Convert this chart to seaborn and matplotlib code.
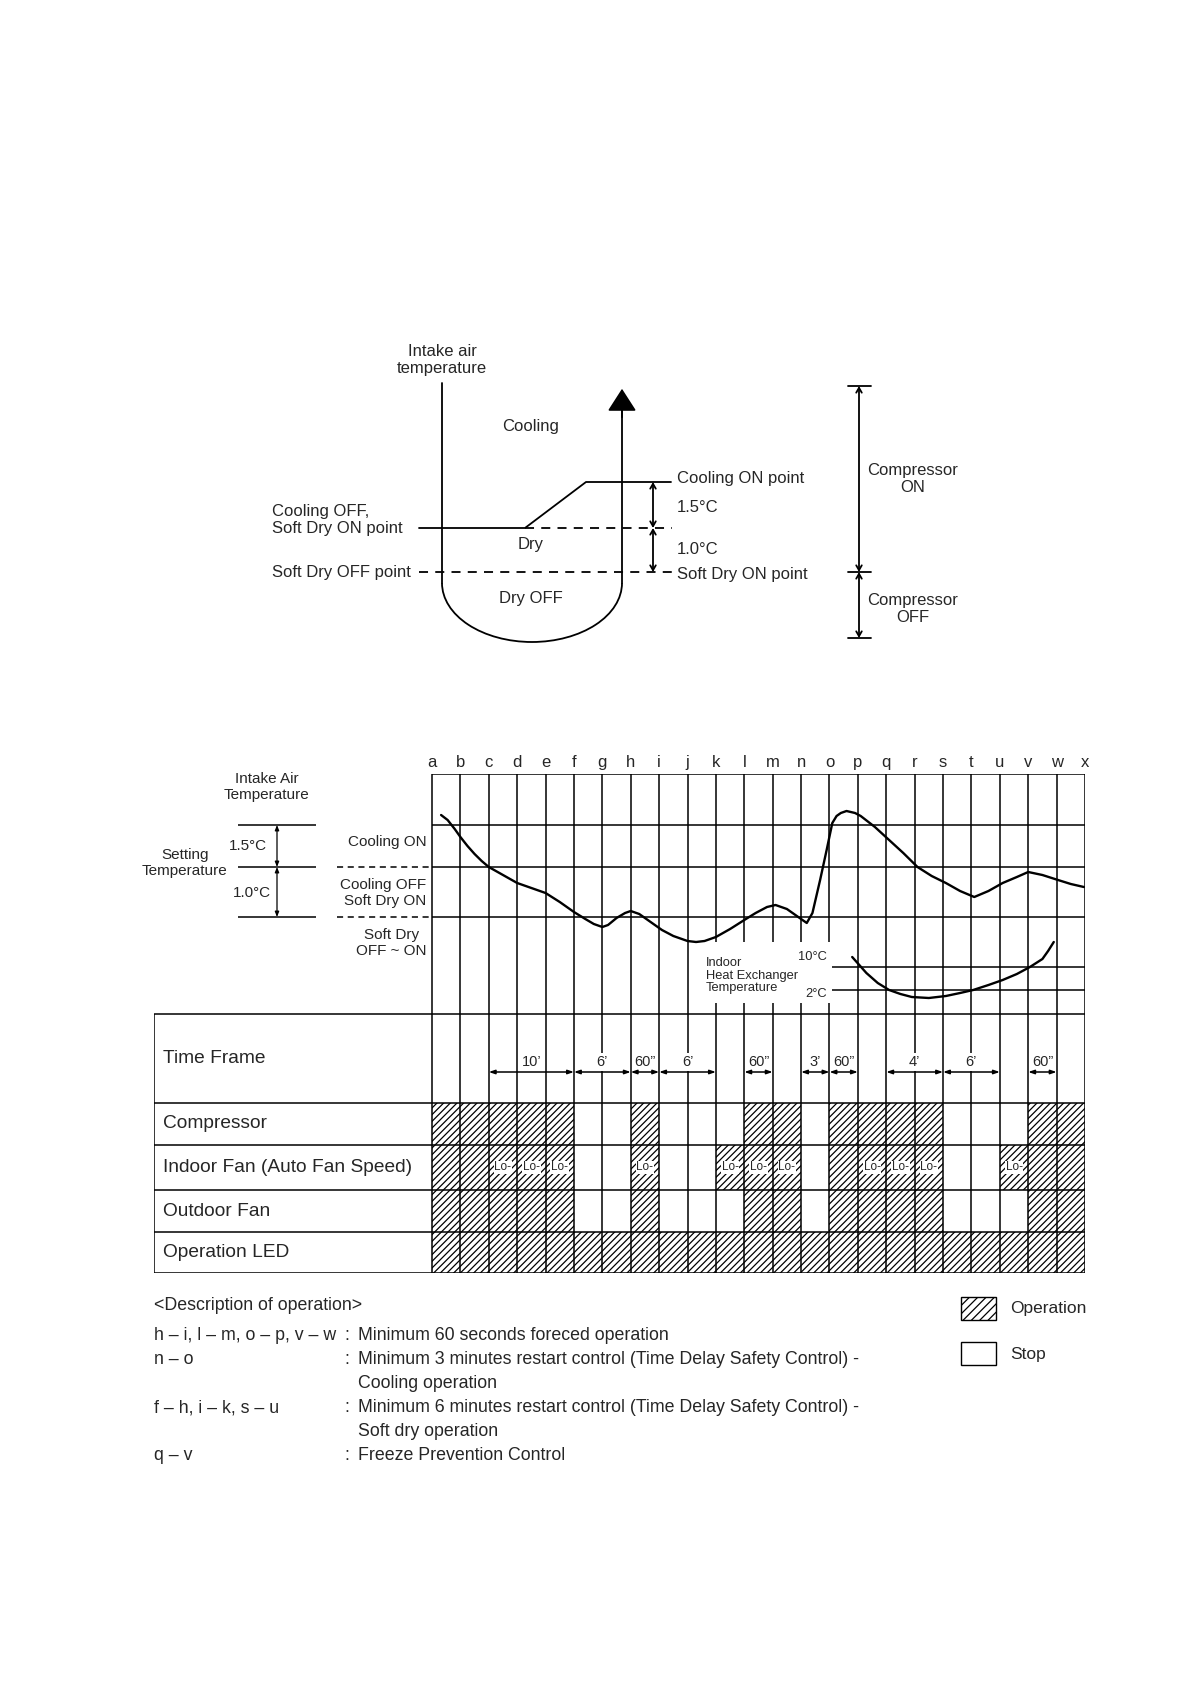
import numpy as np
import matplotlib
matplotlib.use('Agg')
import matplotlib.pyplot as plt
from matplotlib.patches import Arc, Rectangle
import seaborn as sns

sns.set_style('white')
plt.rcParams['font.family'] = ['Liberation Sans', 'DejaVu Sans']
plt.rcParams['hatch.linewidth'] = 0.9

W, H = 1190, 1684

# timing chart data
letters = list('abcdefghijklmnopqrstuvwx')
row_names = ['Time Frame', 'Compressor', 'Indoor Fan (Auto Fan Speed)', 'Outdoor Fan', 'Operation LED']
row_edges = [25.9, 17.0, 12.8, 8.3, 4.1, 0.0]
compressor = [1, 1, 1, 1, 1, 0, 0, 1, 0, 0, 0, 1, 1, 0, 1, 1, 1, 1, 0, 0, 0, 1, 1]
indoor_fan = [1, 1, 1, 1, 1, 0, 0, 1, 0, 0, 1, 1, 1, 0, 1, 1, 1, 1, 0, 0, 1, 1, 1]
outdoor_fan = [1, 1, 1, 1, 1, 0, 0, 1, 0, 0, 0, 1, 1, 0, 1, 1, 1, 1, 0, 0, 0, 1, 1]
op_led = [1] * 23
lo_cells = [2, 3, 4, 7, 10, 11, 12, 15, 16, 17, 20]
frame_start = [2, 5, 7, 8, 11, 13, 14, 16, 18, 21]
frame_end = [5, 7, 8, 10, 12, 14, 15, 18, 20, 22]
frame_text = ['10’', '6’', '60”', '6’', '60”', '3’', '60”', '4’', '6’', '60”']

# intake air temperature (chart units)
air_x = [0.32, 0.55, 0.8, 1.0, 1.25, 1.5, 1.75, 2.0, 2.5, 3.0, 3.5, 4.0, 4.5, 5.0, 5.4, 5.7,
         6.0, 6.2, 6.5, 6.8, 7.0, 7.3, 7.7, 8.1, 8.5, 9.0, 9.3, 9.6, 10.0, 10.5, 11.0, 11.4,
         11.8, 12.1, 12.5, 12.9, 13.2, 13.4, 13.67, 13.9, 14.1, 14.25, 14.4, 14.6, 14.9,
         15.1, 15.6, 16.1, 16.6, 17.1, 17.6, 18.1, 18.6, 19.1, 19.6, 20.1, 20.6, 21.0,
         21.5, 22.05, 22.5, 22.96]
air_y = [45.8, 45.3, 44.4, 43.6, 42.7, 41.9, 41.2, 40.6, 39.8, 39.0, 38.5, 38.0, 37.1, 36.1, 35.4, 34.9,
         34.6, 34.8, 35.5, 36.0, 36.2, 35.9, 35.1, 34.3, 33.7, 33.2, 33.1, 33.2, 33.6, 34.4, 35.3, 36.0,
         36.6, 36.8, 36.4, 35.6, 35.0, 36.0, 39.3, 42.3, 45.0, 45.7, 46.0, 46.2, 46.0,
         45.7, 44.6, 43.3, 42.0, 40.6, 39.7, 39.0, 38.2, 37.6, 38.2, 39.0, 39.6, 40.1,
         39.8, 39.3, 38.9, 38.6]
# indoor heat exchanger temperature
hex_x = [14.8, 15.05, 15.3, 15.7, 16.1, 16.5, 16.9, 17.5, 18.1, 18.6, 19.06, 19.6, 20.1, 20.6,
         21.06, 21.5, 21.7, 21.9]
hex_y = [31.6, 30.8, 30.0, 29.0, 28.3, 27.9, 27.6, 27.5, 27.7, 28.0, 28.3, 28.8, 29.3, 29.9,
         30.6, 31.4, 32.2, 33.1]

level_top, level_on, level_set, level_off = 49.9, 44.8, 40.6, 35.6
hex_10, hex_2 = 30.6, 28.3

fig = plt.figure(figsize=(W / 100, H / 100), dpi=100)


def px_axes(x0, y0, x1, y1):
    return fig.add_axes([x0 / W, 1 - y1 / H, (x1 - x0) / W, (y1 - y0) / H])


# ---------- top diagram (pixel coordinates) ----------
ax0 = px_axes(0, 0, W, H)
ax0.set_xlim(0, W)
ax0.set_ylim(H, 0)
ax0.axis('off')
lw = 1.3
fs = 12
ax0.plot([442, 442], [383, 583], color='black', lw=lw)
ax0.plot([622, 622], [583, 400], color='black', lw=lw)
ax0.add_patch(Arc((532, 583), 180, 118, theta1=0, theta2=180, color='black', lw=lw))
ax0.annotate('', xy=(622, 386), xytext=(622, 420),
             arrowprops=dict(arrowstyle='-|>,head_length=0.7,head_width=0.45', color='black',
                             lw=lw, mutation_scale=20))
ax0.plot([419, 525, 586, 671], [528, 528, 482, 482], color='black', lw=lw)
ax0.plot([525, 672], [528, 528], color='black', lw=lw, ls=(0, (5, 4)))
ax0.plot([419, 672], [572, 572], color='black', lw=lw, ls=(0, (5, 4)))
for ya, yb in [(482, 528), (528, 572)]:
    ax0.annotate('', xy=(653, ya), xytext=(653, yb),
                 arrowprops=dict(arrowstyle='<->,head_length=0.35,head_width=0.2', color='black',
                                 lw=lw, shrinkA=0, shrinkB=0))
for ya, yb in [(386, 572), (572, 638)]:
    ax0.annotate('', xy=(859, ya), xytext=(859, yb),
                 arrowprops=dict(arrowstyle='<->,head_length=0.35,head_width=0.2', color='black',
                                 lw=lw, shrinkA=0, shrinkB=0))
for yy in [386, 572, 638]:
    ax0.plot([848, 871], [yy, yy], color='black', lw=lw)

ax0.text(442, 360, 'Intake air\ntemperature', ha='center', va='center', fontsize=fs, linespacing=1.15)
ax0.text(531, 427, 'Cooling', ha='center', va='center', fontsize=fs)
ax0.text(531, 545, 'Dry', ha='center', va='center', fontsize=fs)
ax0.text(531, 598, 'Dry OFF', ha='center', va='center', fontsize=fs)
ax0.text(272, 520, 'Cooling OFF,\nSoft Dry ON point', ha='left', va='center', fontsize=fs, linespacing=1.15)
ax0.text(272, 572, 'Soft Dry OFF point', ha='left', va='center', fontsize=fs)
ax0.text(677, 479, 'Cooling ON point', ha='left', va='center', fontsize=fs)
ax0.text(677, 507, '1.5°C', ha='left', va='center', fontsize=fs)
ax0.text(677, 550, '1.0°C', ha='left', va='center', fontsize=fs)
ax0.text(677, 574, 'Soft Dry ON point', ha='left', va='center', fontsize=fs)
ax0.text(913, 479, 'Compressor\nON', ha='center', va='center', fontsize=fs, linespacing=1.15)
ax0.text(913, 609, 'Compressor\nOFF', ha='center', va='center', fontsize=fs, linespacing=1.15)

# description + legend
dfs = 12.8
ax0.text(154, 1306, '<Description of operation>', ha='left', va='center', fontsize=dfs)
desc_left = ['h – i, l – m, o – p, v – w', 'n – o', '', 'f – h, i – k, s – u', '', 'q – v']
desc_right = ['Minimum 60 seconds foreced operation',
              'Minimum 3 minutes restart control (Time Delay Safety Control) -',
              'Cooling operation',
              'Minimum 6 minutes restart control (Time Delay Safety Control) -',
              'Soft dry operation',
              'Freeze Prevention Control']
desc_y = [1336, 1360, 1384, 1408, 1432, 1456]
for yl, left, right in zip(desc_y, desc_left, desc_right):
    ax0.text(154, yl, left, ha='left', va='center', fontsize=dfs)
    if left:
        ax0.text(347, yl, ':', ha='center', va='center', fontsize=dfs)
    ax0.text(358, yl, right, ha='left', va='center', fontsize=dfs)

ax0.add_patch(Rectangle((961, 1297), 35, 23, facecolor='none', edgecolor='black', lw=1.0, hatch='////'))
ax0.add_patch(Rectangle((961, 1342), 35, 23, facecolor='none', edgecolor='black', lw=1.0))
ax0.text(1010, 1309, 'Operation', ha='left', va='center', fontsize=12.5)
ax0.text(1010, 1354, 'Stop', ha='left', va='center', fontsize=12.5)

# ---------- timing chart ----------
U = (1085 - 432) / 23
xl = -(432 - 154) / U
ax = px_axes(154, 774, 1085, 1273)
ax.set_xlim(xl, 23)
ax.set_ylim(0, 49.9)
for s in ax.spines.values():
    s.set_visible(False)
ax.set_yticks([])
ax.xaxis.tick_top()
ax.set_xticks(range(24))
ax.set_xticklabels(letters, fontsize=12)
ax.tick_params(axis='x', length=0, pad=3)

gl = 1.1
ax.vlines(range(24), 0, level_top, color='black', lw=gl, zorder=2)
ax.hlines(row_edges, xl, 23, color='black', lw=gl, zorder=2)
ax.vlines(xl, 0, row_edges[0], color='black', lw=gl, zorder=2)
ax.hlines([level_top, level_on, level_set, level_off], 0, 23, color='black', lw=gl, zorder=2)
ax.hlines([level_set, level_off], (337 - 432) / U, 0, color='black', lw=gl, ls=(0, (4, 3)), zorder=2)
ax.hlines([level_on, level_set, level_off], (238 - 432) / U, (316 - 432) / U, color='black', lw=gl)
for ya, yb in [(level_on, level_set), (level_set, level_off)]:
    ax.annotate('', xy=((277 - 432) / U, ya), xytext=((277 - 432) / U, yb),
                arrowprops=dict(arrowstyle='<|-|>,head_length=0.3,head_width=0.12', color='black',
                                lw=0.9, shrinkA=0, shrinkB=0))

# heat exchanger label box
ax.add_patch(Rectangle((9.3, 27.0), 14.08 - 9.3, 33.1 - 27.0, facecolor='white', edgecolor='none', zorder=3))
ax.hlines([hex_10, hex_2], 14.1, 23, color='black', lw=gl, zorder=4)
ax.text(9.65, 29.75, 'Indoor\nHeat Exchanger\nTemperature', ha='left', va='center', fontsize=9.3,
        linespacing=1.1, zorder=4)
ax.text(13.9, 31.6, '10°C', ha='right', va='center', fontsize=9.3, zorder=4)
ax.text(13.9, 27.9, '2°C', ha='right', va='center', fontsize=9.3, zorder=4)

tfs = 11
ax.text((267 - 432) / U, 48.6, 'Intake Air\nTemperature', ha='center', va='center', fontsize=tfs, linespacing=1.2)
ax.text((185 - 432) / U, 41.0, 'Setting\nTemperature', ha='center', va='center', fontsize=tfs, linespacing=1.2)
ax.text((248 - 432) / U, 42.7, '1.5°C', ha='center', va='center', fontsize=tfs)
ax.text((252 - 432) / U, 38.0, '1.0°C', ha='center', va='center', fontsize=tfs)
ax.text(-0.2, 43.1, 'Cooling ON', ha='right', va='center', fontsize=tfs)
ax.text(-0.2, 38.0, 'Cooling OFF\nSoft Dry ON', ha='right', va='center', fontsize=tfs,
        multialignment='right', linespacing=1.2)
ax.text(-0.2, 33.0, 'Soft Dry\nOFF ~ ON', ha='right', va='center', fontsize=tfs,
        multialignment='center', linespacing=1.2)

sns.lineplot(x=air_x, y=air_y, ax=ax, sort=False, estimator=None, color='black', lw=1.7, zorder=5)
sns.lineplot(x=hex_x, y=hex_y, ax=ax, sort=False, estimator=None, color='black', lw=1.7, zorder=5)

# table rows
for i, name in enumerate(row_names):
    yc = (row_edges[i] + row_edges[i + 1]) / 2
    ax.text(xl + 0.32, yc, name, ha='left', va='center', fontsize=13.8)

for states, r in [(compressor, 1), (indoor_fan, 2), (outdoor_fan, 3), (op_led, 4)]:
    on = [i for i, v in enumerate(states) if v]
    ax.bar([i + 0.5 for i in on], row_edges[r] - row_edges[r + 1], bottom=row_edges[r + 1], width=1.0,
           facecolor='none', edgecolor='black', linewidth=0, hatch='/////', zorder=1)

yc_in = (row_edges[2] + row_edges[3]) / 2
for c in lo_cells:
    ax.text(c + 0.5, yc_in, 'Lo-', ha='center', va='center', fontsize=8.5, zorder=6,
            bbox=dict(facecolor='white', edgecolor='none', pad=0.6))

arrow_y = (1273 - 1072) / 10
text_y = (1273 - 1062) / 10
for a, b, t in zip(frame_start, frame_end, frame_text):
    ax.annotate('', xy=(a, arrow_y), xytext=(b, arrow_y),
                arrowprops=dict(arrowstyle='<|-|>,head_length=0.35,head_width=0.12', color='black',
                                lw=1.1, shrinkA=0, shrinkB=0), zorder=6)
    ax.text((a + b) / 2, text_y, t, ha='center', va='center', fontsize=10.5, zorder=5,
            bbox=dict(facecolor='white', edgecolor='none', pad=1.5))

fig.savefig('out.png', dpi=100)
